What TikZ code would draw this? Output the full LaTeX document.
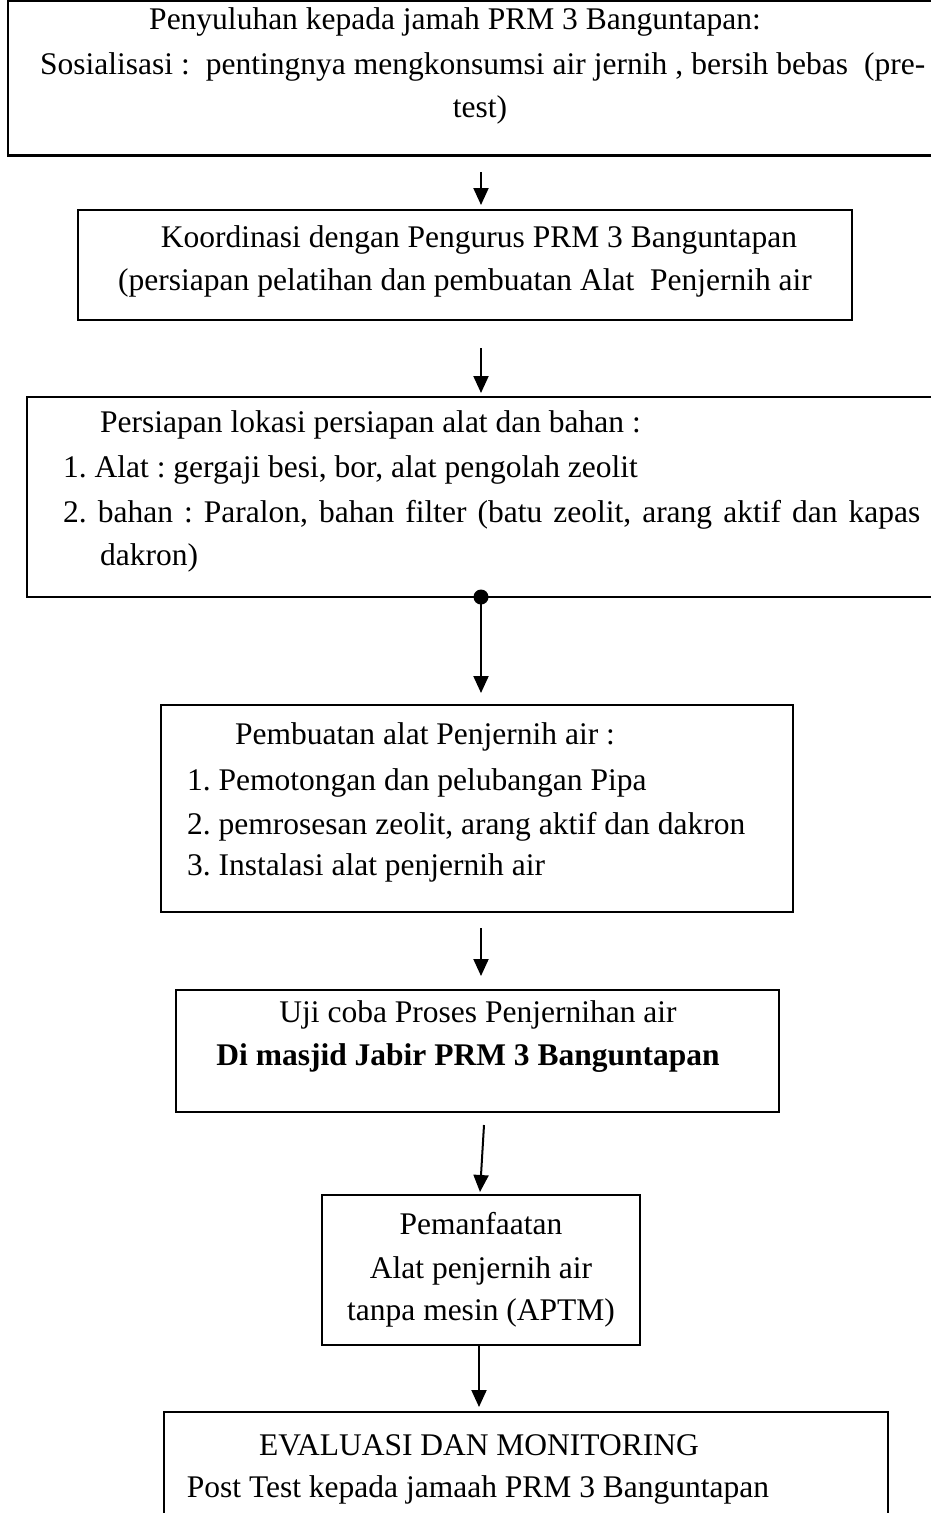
\documentclass[tikz,border=0pt]{standalone}
\usepackage{fontspec}
\setmainfont{Liberation Serif}
\usetikzlibrary{arrows.meta}
\begin{document}
\frenchspacing
\begin{tikzpicture}[x=1pt,y=-1pt,
  box/.style={draw, line width=2pt, inner sep=0pt},
  txt/.style={inner sep=0pt, font=\fontsize{31.5}{36}\selectfont, text height=21pt, text depth=7pt},
  arr/.style={line width=2pt, -{Triangle[length=17pt,width=15pt]}}]
\useasboundingbox (0,0) rectangle (931,1513);
% boxes
\node[box, line width=2.6pt, minimum width=927pt, minimum height=155pt] (b1) at (471.5,78) {};
\node[box, minimum width=774pt, minimum height=110pt] (b2) at (465,265) {};
\node[box, minimum width=908pt, minimum height=200pt] (b3) at (481,497) {};
\node[box, minimum width=632pt, minimum height=207pt] (b4) at (477,808.5) {};
\node[box, minimum width=603pt, minimum height=122pt] (b5) at (477.5,1051) {};
\node[box, minimum width=318pt, minimum height=150pt] (b6) at (481,1270) {};
\node[box, line width=1.5pt, minimum width=724pt, minimum height=110pt] (b7) at (526,1467) {};
% texts
\node[txt] (t1a) at (455,22) {Penyuluhan kepada jamah PRM 3 Banguntapan:};
\node[txt, anchor=west] (t1b) at (40,67) {\makebox[885pt][s]{Sosialisasi :\ \ pentingnya mengkonsumsi air jernih , bersih bebas\ \ (pre-}};
\node[txt] (t1c) at (480,110) {test)};
\node[txt] (t2a) at (479,240) {Koordinasi dengan Pengurus PRM 3 Banguntapan};
\node[txt] (t2b) at (465,283) {(persiapan pelatihan dan pembuatan Alat\ \ Penjernih air};
\node[txt, anchor=west] (t3a) at (100,425) {Persiapan lokasi persiapan alat dan bahan :};
\node[txt, anchor=west] (t3b) at (63,470) {1. Alat : gergaji besi, bor, alat pengolah zeolit};
\node[txt, anchor=west] (t3c) at (63,515) {\makebox[857pt][s]{2. bahan : Paralon, bahan filter (batu zeolit, arang aktif dan kapas}};
\node[txt, anchor=west] (t3d) at (100,558) {dakron)};
\node[txt, anchor=west] (t4a) at (235,737) {Pembuatan alat Penjernih air :};
\node[txt, anchor=west] (t4b) at (187,783) {1. Pemotongan dan pelubangan Pipa};
\node[txt, anchor=west] (t4c) at (187,827) {2. pemrosesan zeolit, arang aktif dan dakron};
\node[txt, anchor=west] (t4d) at (187,868) {3. Instalasi alat penjernih air};
\node[txt] (t5a) at (478,1015) {Uji coba Proses Penjernihan air};
\node[txt, font=\fontsize{31.5}{36}\selectfont\bfseries] (t5b) at (468,1058) {Di masjid Jabir PRM 3 Banguntapan};
\node[txt] (t6a) at (481,1227) {Pemanfaatan};
\node[txt] (t6b) at (481,1271) {Alat penjernih air};
\node[txt] (t6c) at (481,1313) {tanpa mesin (APTM)};
\node[txt] (t7a) at (479,1448) {EVALUASI DAN MONITORING};
\node[txt] (t7b) at (478,1490) {Post Test kepada jamaah PRM 3 Banguntapan};
% connector coordinates
\coordinate (a1s) at (481,172); \coordinate (a1e) at (481,205);
\coordinate (a2s) at (481,348); \coordinate (a2e) at (481,393);
\coordinate (a3s) at (481,597); \coordinate (a3e) at (481,693);
\coordinate (a4s) at (481,928); \coordinate (a4e) at (481,976);
\coordinate (a5s) at (484,1125); \coordinate (a5e) at (480,1192);
\coordinate (a6s) at (479,1346); \coordinate (a6e) at (479,1407);
\draw[arr] (a1s) -- (a1e);
\draw[arr] (a2s) -- (a2e);
\fill (a3s) circle[radius=7.5pt];
\draw[arr] (a3s) -- (a3e);
\draw[arr] (a4s) -- (a4e);
\draw[arr] (a5s) -- (a5e);
\draw[arr] (a6s) -- (a6e);
\end{tikzpicture}
\end{document}
